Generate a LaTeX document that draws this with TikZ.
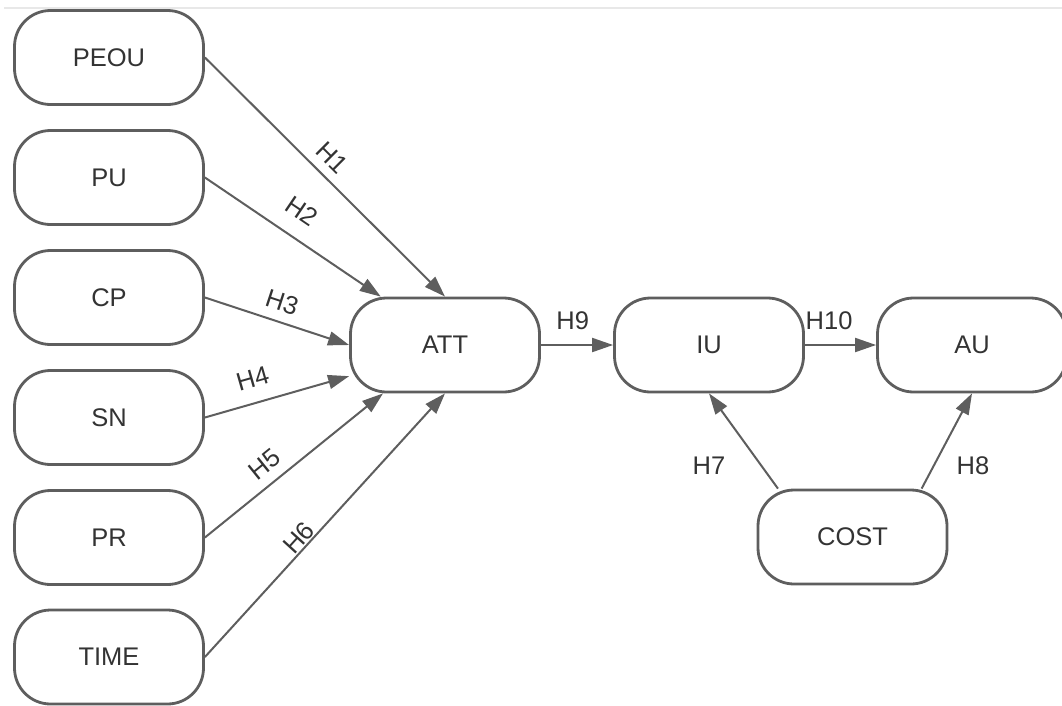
\documentclass[tikz,border=0pt]{standalone}
\usepackage{fontspec}
\setmainfont{Liberation Sans}
\usetikzlibrary{arrows.meta}
\definecolor{edgecol}{HTML}{5E5E5E}
\definecolor{txtcol}{HTML}{333333}
\definecolor{rulecol}{HTML}{E8E8E8}
\begin{document}
\begin{tikzpicture}[x=1pt,y=-1pt,
  box/.style={draw=edgecol, line width=2.8pt, rounded corners=36pt,
    minimum width=189pt, minimum height=94pt, inner sep=0pt,
    text=txtcol, font=\fontsize{25.5}{30}\selectfont},
  link/.style={draw=edgecol, line width=2pt, -{Triangle[length=21pt,width=14pt]}},
  lab/.style={text=txtcol, font=\fontsize{25.5}{30}\selectfont, inner sep=2pt}]
\useasboundingbox (0,0) rectangle (1062,705);
\draw[rulecol, line width=2pt] (4,8) -- (1062,8);
% left column
\node[box] (peou) at (109,57.5) {PEOU};
\node[box] (pu)   at (109,177.5) {PU};
\node[box] (cp)   at (109,297.5) {CP};
\node[box] (sn)   at (109,417.5) {SN};
\node[box] (pr)   at (109,537.5) {PR};
\node[box] (time) at (109,657) {TIME};
% middle / right
\node[box] (att)  at (445,345) {ATT};
\node[box] (iu)   at (709,345) {IU};
\node[box] (au)   at (972,345) {AU};
\node[box] (cost) at (852.5,537) {COST};
% arrows
\draw[link] (peou.east) -- (att.north) node[lab, pos=0.475, sloped, above=7.3pt] {H1};
\draw[link] (pu.east) -- (att.143) node[lab, pos=0.468, sloped, above=14.8pt] {H2};
\draw[link] (cp.east) -- (att.west) node[lab, pos=0.493, sloped, above=7.3pt] {H3};
\draw[link] (sn.east) -- (att.198) node[lab, pos=0.377, sloped, above=12.4pt] {H4};
\draw[link] (pr.east) -- (att.218) node[lab, pos=0.403, sloped, above=7.4pt] {H5};
\draw[link] (time.east) -- (att.south) node[lab, pos=0.424, sloped, above=-1pt] {H6};
\draw[link] (att.east) -- (iu.west) node[lab, pos=0.44, above=11.8pt] {H9};
\draw[link] (iu.east) -- (au.west) node[lab, pos=0.34, above=11.8pt] {H10};
\draw[link] (cost.147) -- (iu.south);
\draw[link] (cost.35) -- (au.south);
\node[lab] (h7) at (709,466) {H7};
\node[lab] (h8) at (973,466) {H8};
\end{tikzpicture}
\end{document}
